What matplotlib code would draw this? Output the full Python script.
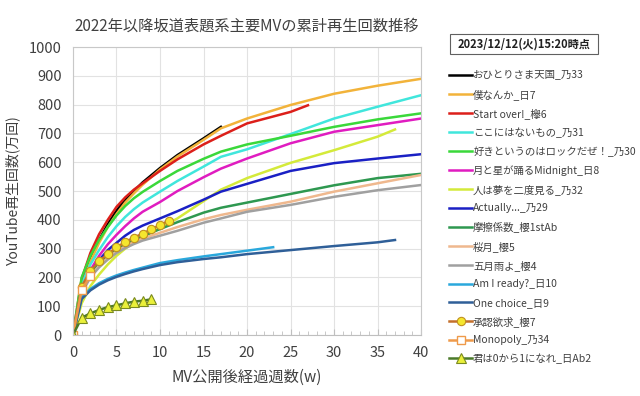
import matplotlib.pyplot as plt
from matplotlib.patches import Rectangle

plt.rcParams['font.family'] = ['Noto Sans CJK JP', 'DejaVu Sans']

# weeks / values (万回)
wk_std = [0, 1, 2, 3, 4, 5, 6, 7, 8, 10, 12, 15, 17, 20, 25, 30, 35, 40]

ohitori_w = [0, 1, 2, 3, 4, 5, 6, 7, 8, 10, 12, 15, 17]
ohitori = [0, 165, 260, 330, 385, 432, 470, 500, 530, 580, 625, 683, 723]

bokunanka = [0, 170, 255, 320, 375, 420, 460, 492, 522, 575, 620, 678, 718, 752, 799, 838, 866, 890]

startover_w = [0, 1, 2, 3, 4, 5, 6, 7, 8, 10, 12, 15, 17, 20, 25, 27]
startover = [0, 195, 285, 350, 400, 445, 478, 505, 527, 570, 610, 662, 692, 735, 775, 798]

kokoni = [0, 175, 245, 295, 340, 378, 410, 437, 460, 498, 535, 585, 619, 645, 698, 752, 793, 833]
sukito = [0, 200, 275, 330, 375, 415, 448, 475, 497, 535, 570, 612, 637, 662, 692, 723, 749, 770]
tsuki = [0, 160, 225, 275, 315, 348, 378, 405, 428, 462, 500, 548, 578, 613, 666, 706, 729, 752]

hitoha_w = [0, 1, 2, 3, 4, 5, 6, 7, 8, 10, 12, 15, 17, 20, 25, 30, 35, 37]
hitoha = [0, 110, 170, 210, 245, 275, 300, 320, 340, 372, 405, 465, 505, 545, 598, 642, 689, 714]

actually = [0, 150, 215, 260, 295, 320, 345, 365, 380, 405, 430, 470, 498, 525, 570, 597, 613, 628]
masatsu = [0, 160, 215, 250, 275, 298, 315, 330, 343, 368, 392, 425, 442, 460, 490, 520, 545, 560]
sakurazuki = [0, 150, 205, 240, 268, 290, 308, 323, 335, 355, 375, 402, 417, 435, 463, 498, 527, 556]
samidare = [0, 145, 200, 235, 262, 285, 302, 316, 328, 345, 362, 390, 405, 428, 452, 480, 503, 521]

amiready_w = [0, 1, 2, 3, 4, 5, 6, 7, 8, 10, 12, 15, 17, 20, 23]
amiready = [0, 130, 160, 180, 195, 207, 217, 226, 234, 250, 260, 273, 281, 293, 305]

onechoice_w = [0, 1, 2, 3, 4, 5, 6, 7, 8, 10, 12, 15, 17, 20, 25, 30, 35, 37]
onechoice = [0, 125, 155, 175, 190, 202, 212, 221, 229, 243, 253, 264, 270, 281, 295, 309, 322, 330]

shounin_w = [0, 1, 2, 3, 4, 5, 6, 7, 8, 9, 10, 11]
shounin = [0, 168, 223, 257, 281, 304, 323, 338, 352, 367, 382, 397]

monopoly_w = [0, 1, 2]
monopoly = [0, 156, 206]

kimiha_w = [0, 1, 2, 3, 4, 5, 6, 7, 8, 9]
kimiha = [0, 60, 75, 87, 97, 103, 110, 116, 119, 124]

fig = plt.figure(figsize=(6.4, 3.96), dpi=100)
ax = fig.add_axes([0.114, 0.154, 0.544, 0.727])

lw = 1.8
lines = [
    (ohitori_w, ohitori, '#000000', 'おひとりさま天国_乃33'),
    (wk_std, bokunanka, '#f2b33a', '僕なんか_日7'),
    (startover_w, startover, '#dc1f1a', 'Start over!_欅6'),
    (wk_std, kokoni, '#40e6dc', 'ここにはないもの_乃31'),
    (wk_std, sukito, '#3ad83a', '好きというのはロックだぜ！_乃30'),
    (wk_std, tsuki, '#e01cc0', '月と星が踊るMidnight_日8'),
    (hitoha_w, hitoha, '#d4ea3a', '人は夢を二度見る_乃32'),
    (wk_std, actually, '#1a20c4', 'Actually..._乃29'),
    (wk_std, masatsu, '#2e9850', '摩擦係数_櫻1stAb'),
    (wk_std, sakurazuki, '#efb88e', '桜月_櫻5'),
    (wk_std, samidare, '#a0a0a0', '五月雨よ_櫻4'),
    (amiready_w, amiready, '#2aa8dc', 'Am I ready?_日10'),
    (onechoice_w, onechoice, '#2f5f98', 'One choice_日9'),
]

handles = []
for x, y, c, lab in lines:
    h, = ax.plot(x, y, color=c, lw=lw, label=lab)
    handles.append(h)

h, = ax.plot(shounin_w, shounin, color='#c4702c', lw=lw, marker='o', ms=6,
             mfc='#f5e62e', mec='#c09020', mew=0.8, label='承認欲求_櫻7')
handles.append(h)
h, = ax.plot(monopoly_w, monopoly, color='#ef9a4a', lw=lw, marker='s', ms=6,
             mfc='white', mec='#ef9a4a', mew=1.0, label='Monopoly_乃34')
handles.append(h)
h, = ax.plot(kimiha_w, kimiha, color='#4a7a2a', lw=lw, marker='^', ms=6.5,
             mfc='#eaf03a', mec='#7a8a20', mew=0.8, label='君は0から1になれ_日Ab2')
handles.append(h)

ax.set_xlim(0, 40)
ax.set_ylim(0, 1000)
ax.set_xticks(range(0, 41, 5))
ax.set_xticks(range(0, 41, 1), minor=True)
ax.set_yticks(range(0, 1001, 100))
ax.grid(True, color='#e2e2e2', lw=0.8)
ax.set_axisbelow(True)
for s in ax.spines.values():
    s.set_color('#c8c8c8')
ax.spines['bottom'].set_color('#bfbfbf')
ax.tick_params(axis='x', which='both', direction='in', colors='#bfbfbf',
               labelcolor='#404040', labelsize=10.5, pad=8)
ax.tick_params(axis='x', which='major', length=4)
ax.tick_params(axis='x', which='minor', length=3)
ax.tick_params(axis='y', length=0, labelcolor='#404040', labelsize=10.5, pad=8)

ax.set_xlabel('MV公開後経過週数(w)', fontsize=11, color='#404040', labelpad=6)
ax.set_ylabel('YouTube再生回数(万回)', fontsize=10, color='#404040', labelpad=6)
ax.set_title('2022年以降坂道表題系主要MVの累計再生回数推移', fontsize=11,
             color='#404040', pad=12)

# date box
fig.patches.append(Rectangle((450 / 640, 1 - 54 / 396), 148 / 640, 20 / 396,
                             transform=fig.transFigure, fill=False,
                             ec='#606060', lw=0.8))
fig.text(524 / 640, 1 - 44 / 396, '2023/12/12(火)15:20時点', ha='center',
         va='center', fontsize=8, fontweight='bold', color='#202020')

leg = fig.legend(handles=handles, loc='upper left',
                 bbox_to_anchor=(445 / 640, 1 - 66 / 396), frameon=False,
                 fontsize=7.5, handlelength=2.2, handletextpad=0.1,
                 labelspacing=0.8, borderaxespad=0)
for t in leg.get_texts():
    t.set_color('#404040')

fig.savefig('out.png', dpi=100)
